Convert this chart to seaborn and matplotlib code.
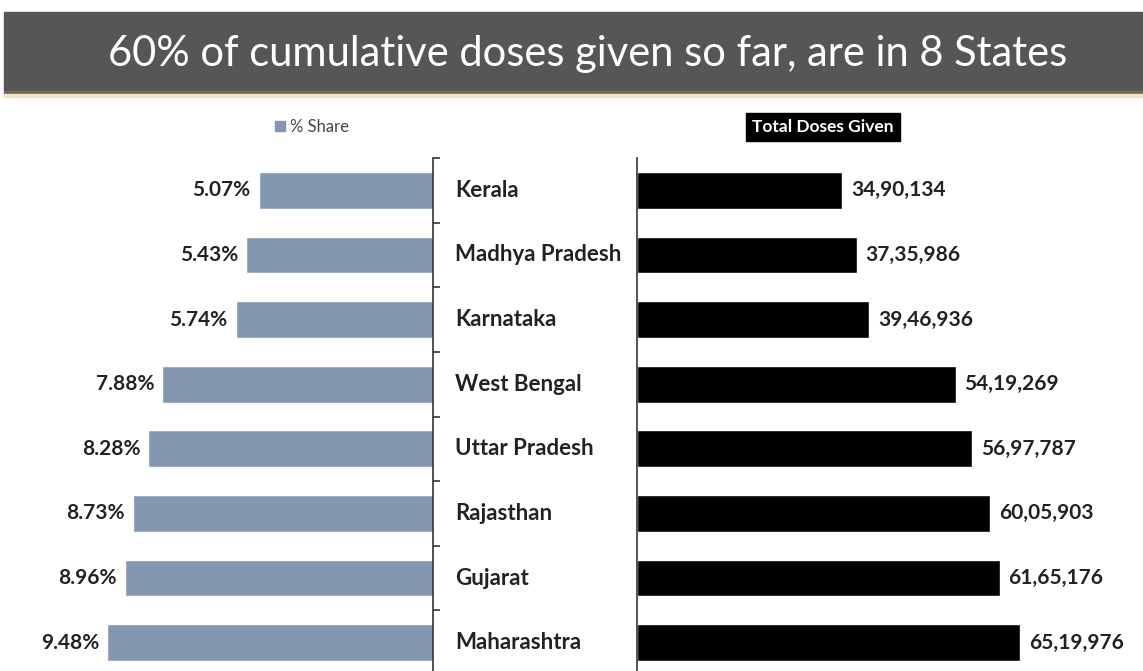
import numpy as np
import pandas as pd
import seaborn as sns
import matplotlib.pyplot as plt
from matplotlib.patches import Rectangle, Patch

# -----------------------------
# Data
# -----------------------------

states = ["Kerala", "Madhya Pradesh", "Karnataka", "West Bengal",
          "Uttar Pradesh", "Rajasthan", "Gujarat", "Maharashtra"]
share_pct = [5.07, 5.43, 5.74, 7.88, 8.28, 8.73, 8.96, 9.48]
total_doses = [3490134, 3735986, 3946936, 5419269,
               5697787, 6005903, 6165176, 6519976]
dose_labels = ["34,90,134", "37,35,986", "39,46,936", "54,19,269",
               "56,97,787", "60,05,903", "61,65,176", "65,19,976"]

df = pd.DataFrame({"state": states, "share": share_pct, "doses": total_doses})

# -----------------------------
# Setup
# -----------------------------

sns.set_theme(style="white")
plt.rcParams["font.family"] = ["Lato", "DejaVu Sans"]

W, H = 1143, 671
fig = plt.figure(figsize=(W / 100, H / 100), dpi=100)

def fx(px):
    return px / W

def fy(py):
    return 1 - py / H

# title banner
fig.patches.append(Rectangle((fx(4), fy(91)), 1 - fx(4), (91 - 12) / H,
                             transform=fig.transFigure, color="#565656", zorder=0))
fig.patches.append(Rectangle((fx(4), fy(94)), 1 - fx(4), 3 / H,
                             transform=fig.transFigure, color="#7a6550", zorder=0))
fig.patches.append(Rectangle((fx(4), fy(97)), 1 - fx(4), 3 / H,
                             transform=fig.transFigure, color="#efe3cf", zorder=0))
fig.text(fx(588), fy(54), "60% of cumulative doses given so far, are in 8 States",
         color="white", fontsize=30, ha="center", va="center")

# -----------------------------
# Two mirrored bar panels
# -----------------------------

top, bot = 158, 675
left_spine, right_spine = 433, 637
ax_l = fig.add_axes([0, fy(bot), fx(left_spine), (bot - top) / H])
ax_r = fig.add_axes([fx(right_spine), fy(bot), 1 - fx(right_spine), (bot - top) / H])

bar_w = 0.57
sns.barplot(data=df, y="state", x="share", color="#8497b0", width=bar_w,
            saturation=1, ax=ax_l)
sns.barplot(data=df, y="state", x="doses", color="black", width=bar_w,
            saturation=1, ax=ax_r)

ax_l.set_xlim(left_spine / 34.4, 0)
ax_r.set_xlim(0, (W - right_spine) / 58.8 * 1e6)

for ax in (ax_l, ax_r):
    ax.set_ylim(7.5, -0.5)
    ax.set_yticks(np.arange(-0.5, 8, 1))
    ax.set_yticklabels([])
    ax.set_xticks([])
    ax.set_xlabel("")
    ax.set_ylabel("")
    ax.patch.set_alpha(0)
    for s in ax.spines.values():
        s.set_visible(False)
    ax.tick_params(axis="y", direction="out", length=5, width=1.2, color="#333333")

ax_l.yaxis.tick_right()
ax_l.spines["right"].set_visible(True)
ax_l.spines["right"].set_color("#333333")
ax_l.spines["right"].set_linewidth(1.2)
ax_r.spines["left"].set_visible(True)
ax_r.spines["left"].set_color("#333333")
ax_r.spines["left"].set_linewidth(1.2)

# value labels
for i, v in enumerate(share_pct):
    ax_l.text(v + 0.23, i, f"{v:.2f}%", ha="right", va="center",
              fontsize=15, fontweight="bold", color="#222222")
for i, v in enumerate(total_doses):
    ax_r.text(v + 0.15e6, i, dose_labels[i], ha="left", va="center",
              fontsize=15, fontweight="bold", color="#222222")

# state names in the middle
for i, name in enumerate(states):
    ax_l.text(455 / left_spine, i, name, transform=ax_l.get_yaxis_transform(),
              ha="left", va="center", fontsize=16, fontweight="bold",
              color="#222222")

# legends
ax_l.legend(handles=[Patch(color="#8497b0", label="% Share")], loc="center",
            bbox_to_anchor=(fx(312), fy(127)), bbox_transform=fig.transFigure,
            frameon=False, fontsize=12, handlelength=0.6, handleheight=0.6,
            handletextpad=0.3, labelcolor="#444444")
fig.text(fx(823), fy(127), "Total Doses Given", color="white", fontsize=12.5,
         fontweight="bold", ha="center", va="center",
         bbox=dict(facecolor="black", edgecolor="black", boxstyle="square,pad=0.35"))

plt.savefig("out.png", dpi=100)
plt.close()
